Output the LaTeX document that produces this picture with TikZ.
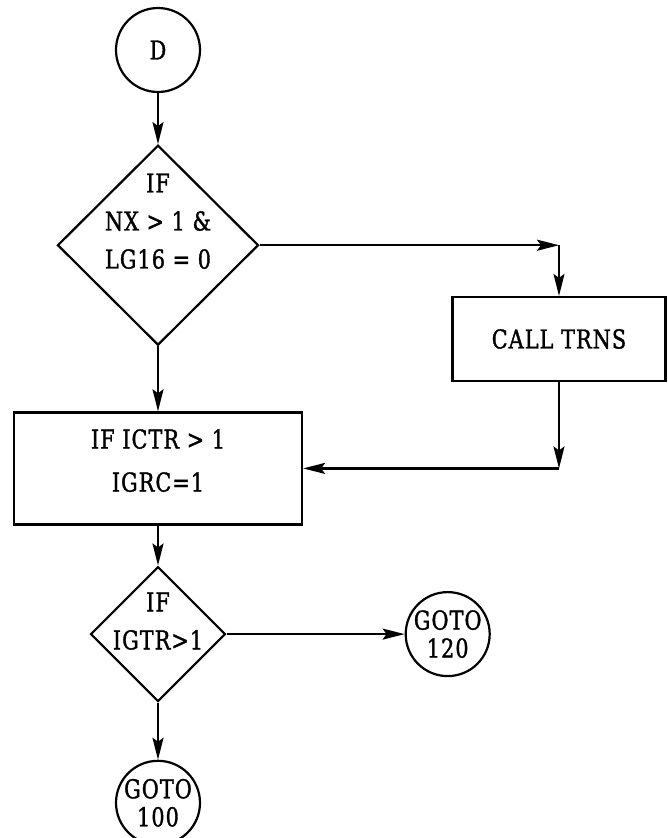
\documentclass[tikz,border=0pt]{standalone}
\usepackage{fontspec}
\setmainfont{DejaVu Serif}[FakeStretch=0.8,FakeBold=1.3,LetterSpace=4]
\usetikzlibrary{arrows.meta,positioning,shapes.geometric}

\begin{document}
\begin{tikzpicture}[
  x=1pt,y=-1pt,
  node distance=50pt and 178pt,
  every node/.style={font=\fontsize{26}{28}\selectfont},
  term/.style={draw,circle,minimum size=84pt,inner sep=0pt,align=center},
  test/.style={draw,diamond,inner sep=0pt},
  inside/.style={align=center,font=\fontsize{26}{38}\selectfont},
  stage/.style={draw,minimum width=288pt,minimum height=112pt,align=center,
    font=\fontsize{26}{43}\selectfont},
  route/.style={-{Stealth[length=22pt,width=11pt,inset=4pt]}}
]
  \useasboundingbox (0,0) rectangle (667,838);
  \tikzset{every path/.append style={line width=2.2pt}}

  \node[term] (entry) at (158,50) {D};
  \node[test,minimum width=201pt,minimum height=200pt,below=51pt of entry,
    label={[inside,yshift=24pt]center:IF\\NX > 1 \&\\LG16 = 0}] (nxtest) {};
  \node[stage,below=65pt of nxtest] (ictr) {IF ICTR > 1\\IGRC=1\rule[-16pt]{0pt}{0pt}};
  \node[stage,minimum width=213pt,minimum height=84pt] (trns) at (559,339) {CALL TRNS};
  \node[test,minimum width=135pt,minimum height=135pt,below=40pt of ictr,
    label={[inside,yshift=13pt]center:IF\\IGTR>1}] (igtr) {};
  \node[term,right=of igtr] (exit120) {GOTO\\120};
  \node[term,below=57pt of igtr] (exit100) {GOTO\\100};

  \coordinate (turn1) at (nxtest.east -| trns);
  \coordinate (turn2) at (trns |- ictr.east);

  \draw[route] (entry) -- (nxtest);
  \draw[route] (nxtest) -- (turn1);
  \draw[route] (turn1) -- (trns);
  \draw[route] (trns) -- (turn2);
  \draw[route] (turn2) -- (ictr);
  \draw[route] (nxtest) -- (ictr);
  \draw[route] (ictr) -- (igtr);
  \draw[route] (igtr) -- (exit120);
  \draw[route] (igtr) -- (exit100);
\end{tikzpicture}
\end{document}
